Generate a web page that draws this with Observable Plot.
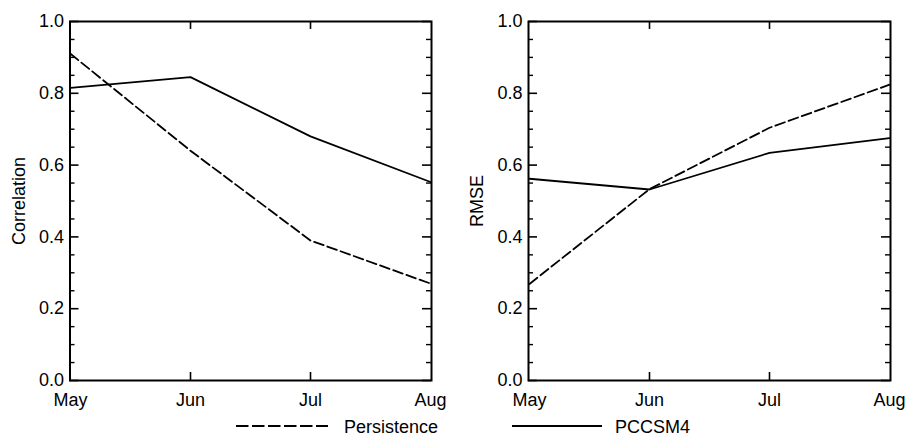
<!DOCTYPE html>
<html><head><meta charset="utf-8">
<script src="https://cdn.jsdelivr.net/npm/d3@7"></script>
<script src="https://cdn.jsdelivr.net/npm/@observablehq/plot@0.6"></script>
<style>
body{margin:0;background:#fff;}
#wrap{position:relative;width:906px;height:437px;overflow:hidden;font-family:"Liberation Sans",Arial,sans-serif;}
#wrap svg{position:absolute;top:0;overflow:visible;}
</style></head><body><div id="wrap"></div>
<script>
const months = ["May", "Jun", "Jul", "Aug"];
const innerMonths = ["Jun", "Jul"];
const corrPersistence = [0.91, 0.64, 0.39, 0.27];
const corrPCCSM4 = [0.815, 0.845, 0.68, 0.553];
const rmsePersistence = [0.269, 0.533, 0.704, 0.824];
const rmsePCCSM4 = [0.562, 0.532, 0.634, 0.675];
const yMajorTicks = [0, 0.2, 0.4, 0.6, 0.8, 1.0];
const yMinorTicks = [0.05, 0.1, 0.15, 0.25, 0.3, 0.35, 0.45, 0.5, 0.55, 0.65, 0.7, 0.75, 0.85, 0.9, 0.95];
const seriesNames = ["Persistence", "PCCSM4"];
const yTitles = ["Correlation", "RMSE"];

const FONT = '"Liberation Sans", Arial, sans-serif';
const wrap = document.getElementById("wrap");

function panel(title, pers, pcc, left, ml, mr, titleDx) {
  const W = 453, H = 437, mt = 21, mb = 57;
  const fw = W - ml - mr, fh = H - mt - mb;
  const rows = months.flatMap((m, i) => [
    {month: m, series: seriesNames[0], value: pers[i]},
    {month: m, series: seriesNames[1], value: pcc[i]}
  ]);
  const svg = Plot.plot({
    width: W, height: H,
    marginLeft: ml, marginRight: mr, marginTop: mt, marginBottom: mb,
    style: {fontFamily: FONT, fontSize: "18px", color: "#000", background: "transparent", overflow: "visible"},
    x: {type: "point", domain: months, padding: 0},
    y: {domain: [0, 1]},
    marks: [
      Plot.line(rows.filter(d => d.series === "PCCSM4"), {x: "month", y: "value", stroke: "#000", strokeWidth: 1.8}),
      Plot.line(rows.filter(d => d.series === "Persistence"), {x: "month", y: "value", stroke: "#000", strokeWidth: 1.8, strokeDasharray: "10,4"}),
      Plot.tickY(yMajorTicks, {y: d => d, insetRight: fw - 9, stroke: "#000", strokeWidth: 1.6}),
      Plot.tickY(yMajorTicks, {y: d => d, insetLeft: fw - 9, stroke: "#000", strokeWidth: 1.6}),
      Plot.tickY(yMinorTicks, {y: d => d, insetRight: fw - 5, stroke: "#000", strokeWidth: 1.4}),
      Plot.tickY(yMinorTicks, {y: d => d, insetLeft: fw - 5, stroke: "#000", strokeWidth: 1.4}),
      Plot.tickX(innerMonths, {x: d => d, insetBottom: fh - 8, stroke: "#000", strokeWidth: 1.6}),
      Plot.tickX(innerMonths, {x: d => d, insetTop: fh - 8, stroke: "#000", strokeWidth: 1.6}),
      Plot.frame({stroke: "#000", strokeWidth: 2}),
      Plot.axisY(yMajorTicks, {tickSize: 0, tickPadding: 6, tickFormat: d3.format(".1f"), fontSize: 18, label: null}),
      Plot.axisX(months, {tickSize: 0, tickPadding: 13, fontSize: 18, label: null}),
      Plot.text([title], {frameAnchor: "left", rotate: -90, dx: titleDx, textAnchor: "middle", lineAnchor: "middle", fontSize: 18, fill: "#000"})
    ]
  });
  svg.style.left = left + "px";
  wrap.appendChild(svg);
}

panel(yTitles[0], corrPersistence, corrPCCSM4, 0, 69.5, 22, -50.5);
panel(yTitles[1], rmsePersistence, rmsePCCSM4, 453, 75, 16, -51.5);

// legend
const ns = "http://www.w3.org/2000/svg";
const leg = document.createElementNS(ns, "svg");
leg.setAttribute("width", 906);
leg.setAttribute("height", 437);
leg.style.left = "0px";
leg.style.pointerEvents = "none";
const items = [
  {name: seriesNames[0], x1: 236, x2: 328, tx: 344, dash: "12.5,3.5"},
  {name: seriesNames[1], x1: 512, x2: 602, tx: 615, dash: null}
];
for (const it of items) {
  const l = document.createElementNS(ns, "line");
  l.setAttribute("x1", it.x1); l.setAttribute("x2", it.x2);
  l.setAttribute("y1", 426); l.setAttribute("y2", 426);
  l.setAttribute("stroke", "#000"); l.setAttribute("stroke-width", 2);
  if (it.dash) l.setAttribute("stroke-dasharray", it.dash);
  leg.appendChild(l);
  const t = document.createElementNS(ns, "text");
  t.setAttribute("x", it.tx); t.setAttribute("y", 433);
  t.setAttribute("font-family", FONT); t.setAttribute("font-size", 18);
  t.setAttribute("fill", "#000");
  t.textContent = it.name;
  leg.appendChild(t);
}
wrap.appendChild(leg);
</script></body></html>
